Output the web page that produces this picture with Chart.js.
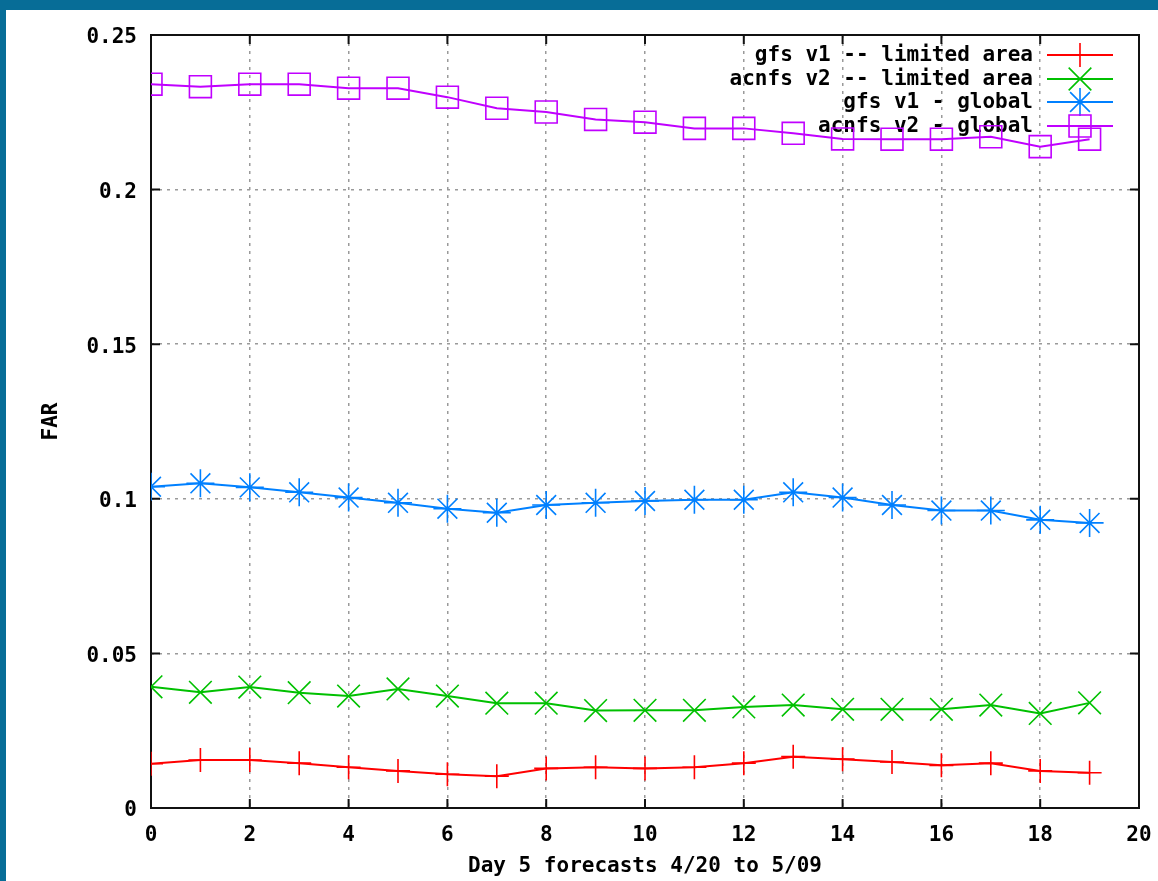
<!DOCTYPE html>
<html>
<head>
<meta charset="utf-8">
<script src="https://cdn.jsdelivr.net/npm/chart.js@4.4.0/dist/chart.umd.min.js"></script>
<style>
  html, body { margin: 0; padding: 0; background: #fff; }
  #wrap {
    width: 1152px; height: 871px;
    border-top: 10px solid #076d97;
    border-left: 6px solid #076d97;
  }
  canvas { display: block; }
</style>
</head>
<body>
<div id="wrap"><canvas id="farChart" width="1152" height="871"></canvas></div>
<script>
// forecast day index
var days = [0,1,2,3,4,5,6,7,8,9,10,11,12,13,14,15,16,17,18,19];

var gfsLimited   = [0.0143,0.0155,0.0155,0.0145,0.0132,0.0120,0.0109,0.0103,0.0128,0.0132,
                    0.0128,0.0132,0.0145,0.0166,0.0158,0.0149,0.0138,0.0145,0.0120,0.0114];
var acnfsLimited = [0.0392,0.0374,0.0391,0.0373,0.0362,0.0385,0.0362,0.0339,0.0339,0.0315,
                    0.0316,0.0316,0.0327,0.0333,0.0319,0.0319,0.0319,0.0333,0.0306,0.0340];
var gfsGlobal    = [0.1039,0.1050,0.1037,0.1021,0.1004,0.0987,0.0968,0.0955,0.0980,0.0987,
                    0.0993,0.0997,0.0997,0.1021,0.1004,0.0980,0.0962,0.0962,0.0932,0.0922];
var acnfsGlobal  = [0.2341,0.2333,0.2341,0.2341,0.2328,0.2328,0.2299,0.2263,0.2251,0.2227,
                    0.2218,0.2198,0.2198,0.2182,0.2164,0.2163,0.2163,0.2171,0.2139,0.2163];

var seriesNames = ['gfs v1 -- limited area', 'acnfs v2 -- limited area', 'gfs v1 - global', 'acnfs v2 - global'];
var xTicks = [0,2,4,6,8,10,12,14,16,18,20];
var yTicks = [0,0.05,0.1,0.15,0.2,0.25];
var yTickLabels = ['0','0.05','0.1','0.15','0.2','0.25'];

var monoFont = "'DejaVu Sans Mono', 'Liberation Mono', monospace";

function pts(vals) {
    return days.map(function (d, i) { return {x: d, y: vals[i]}; });
}

function series(label, vals, color, style, radius) {
    return {
        label: label,
        data: pts(vals),
        borderColor: color,
        backgroundColor: 'rgba(0,0,0,0)',
        borderWidth: 2,
        pointStyle: style,
        pointRadius: radius,
        pointHoverRadius: radius,
        pointBorderColor: color,
        pointBackgroundColor: 'rgba(0,0,0,0)',
        pointBorderWidth: 1.6,
        tension: 0
    };
}

// frame with inward tick marks, like gnuplot
var framePlugin = {
    id: 'frame',
    beforeDatasetsDraw: function (chart) {
        var c = chart.ctx, a = chart.chartArea;
        var xs = chart.scales.x, ys = chart.scales.y;
        c.save();
        c.strokeStyle = '#111';
        c.lineWidth = 2;
        c.strokeRect(a.left, a.top, a.right - a.left, a.bottom - a.top);
        c.beginPath();
        xTicks.forEach(function (t) {
            var px = xs.getPixelForValue(t);
            c.moveTo(px, a.bottom); c.lineTo(px, a.bottom - 9);
            c.moveTo(px, a.top); c.lineTo(px, a.top + 9);
        });
        yTicks.forEach(function (t) {
            var py = ys.getPixelForValue(t);
            c.moveTo(a.left, py); c.lineTo(a.left + 9, py);
            c.moveTo(a.right, py); c.lineTo(a.right - 9, py);
        });
        c.stroke();
        c.restore();
    }
};

// gnuplot style key: right aligned text then a sample line with its marker
var keyPlugin = {
    id: 'key',
    beforeDatasetsDraw: function (chart) {
        var c = chart.ctx;
        var rows = [45, 69, 92, 116];
        c.save();
        c.font = 'bold 21px ' + monoFont;
        c.textAlign = 'right';
        c.textBaseline = 'middle';
        chart.data.datasets.forEach(function (ds, i) {
            var y = rows[i];
            c.fillStyle = '#000';
            c.fillText(ds.label, 1027, y + 1);
            c.strokeStyle = ds.borderColor;
            c.lineWidth = 2;
            c.beginPath();
            c.moveTo(1041, y); c.lineTo(1107, y);
            c.stroke();
            if (Chart.helpers && Chart.helpers.drawPoint) {
                c.lineWidth = ds.pointBorderWidth;
                c.fillStyle = 'rgba(0,0,0,0)';
                Chart.helpers.drawPoint(c, {
                    pointStyle: ds.pointStyle, radius: ds.pointRadius,
                    borderWidth: ds.pointBorderWidth, rotation: 0
                }, 1074, y);
            }
        });
        c.restore();
    }
};

new Chart(document.getElementById('farChart'), {
    type: 'line',
    data: {
        datasets: [
            series(seriesNames[0], gfsLimited, '#ff0000', 'cross', 12),
            series(seriesNames[1], acnfsLimited, '#00c000', 'crossRot', 16),
            series(seriesNames[2], gfsGlobal, '#0080ff', 'star', 14),
            series(seriesNames[3], acnfsGlobal, '#c000ff', 'rect', 15.5)
        ]
    },
    options: {
        responsive: false,
        animation: false,
        layout: { padding: { top: 25, right: 19, left: 0, bottom: 0 } },
        plugins: {
            legend: { display: false },
            tooltip: { enabled: false }
        },
        scales: {
            x: {
                type: 'linear',
                min: 0, max: 20,
                afterFit: function (s) {
                    s.height = 73;
                    s.paddingLeft = 0;
                    s.paddingRight = 0;
                },
                afterBuildTicks: function (s) {
                    s.ticks = xTicks.map(function (v) { return {value: v}; });
                },
                ticks: {
                    font: { family: monoFont, size: 21, weight: 'bold' },
                    color: '#000',
                    padding: 15,
                    maxRotation: 0,
                    autoSkip: false
                },
                grid: { color: '#9a9a9a', lineWidth: 1.5, drawTicks: false },
                border: { display: false, dash: [3, 5] },
                title: {
                    display: true,
                    text: 'Day 5 forecasts 4/20 to 5/09',
                    font: { family: monoFont, size: 21, weight: 'bold' },
                    color: '#000',
                    padding: { top: 0, bottom: 2 }
                }
            },
            y: {
                min: 0, max: 0.25,
                afterFit: function (s) {
                    s.width = 145;
                    s.paddingTop = 0;
                    s.paddingBottom = 0;
                },
                afterBuildTicks: function (s) {
                    s.ticks = yTicks.map(function (v) { return {value: v}; });
                },
                ticks: {
                    font: { family: monoFont, size: 21, weight: 'bold' },
                    color: '#000',
                    padding: 14,
                    labelOffset: 3,
                    callback: function (v) {
                        var i = yTicks.indexOf(v);
                        return i >= 0 ? yTickLabels[i] : '';
                    }
                },
                grid: { color: '#9a9a9a', lineWidth: 1.5, drawTicks: false },
                border: { display: false, dash: [3, 5] },
                title: {
                    display: true,
                    text: 'FAR',
                    font: { family: monoFont, size: 21, weight: 'bold' },
                    color: '#000',
                    padding: { top: 33, bottom: 0 }
                }
            }
        }
    },
    plugins: [framePlugin, keyPlugin]
});
</script>
</body>
</html>
